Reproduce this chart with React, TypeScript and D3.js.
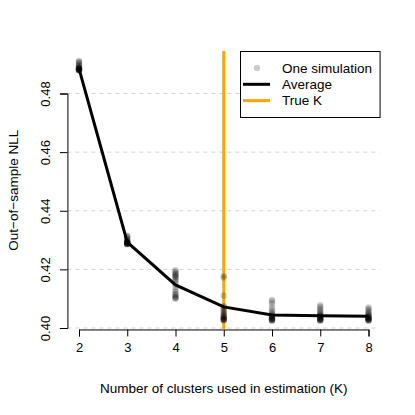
import * as d3 from 'd3'
import { useEffect, useRef } from 'react'

// number of clusters used in estimation
const clusters = [2, 3, 4, 5, 6, 7, 8]

// out-of-sample NLL per simulation
const simK2 = [0.4911, 0.4908, 0.4904, 0.4900, 0.4896, 0.4893, 0.4890, 0.4888, 0.4887, 0.4886,
    0.4885, 0.4884, 0.4883, 0.4882, 0.4882, 0.4881, 0.4880, 0.4880, 0.4879, 0.4879]
const simK3 = [0.4315, 0.4312, 0.4308, 0.4304, 0.4300, 0.4298, 0.4296, 0.4294, 0.4293, 0.4292,
    0.4291, 0.4290, 0.4290, 0.4289, 0.4288, 0.4288, 0.4287, 0.4287, 0.4286, 0.4286]
const simK4 = [0.4197, 0.4192, 0.4188, 0.4184, 0.4180, 0.4177, 0.4174, 0.4170, 0.4165, 0.4158,
    0.4150, 0.4140, 0.4130, 0.4122, 0.4116, 0.4112, 0.4108, 0.4105, 0.4102, 0.4100]
const simK5 = [0.4177, 0.4172, 0.4110, 0.4075, 0.4070, 0.4065, 0.4060, 0.4055, 0.4050, 0.4046,
    0.4043, 0.4040, 0.4037, 0.4035, 0.4033, 0.4031, 0.4030, 0.4028, 0.4027, 0.4026]
const simK6 = [0.4096, 0.4090, 0.4082, 0.4070, 0.4062, 0.4055, 0.4050, 0.4046, 0.4043, 0.4040,
    0.4038, 0.4036, 0.4034, 0.4032, 0.4031, 0.4030, 0.4028, 0.4027, 0.4026, 0.4025]
const simK7 = [0.4078, 0.4072, 0.4066, 0.4060, 0.4055, 0.4050, 0.4047, 0.4044, 0.4041, 0.4039,
    0.4037, 0.4035, 0.4033, 0.4032, 0.4030, 0.4029, 0.4028, 0.4027, 0.4026, 0.4025]
const simK8 = [0.4070, 0.4065, 0.4060, 0.4055, 0.4050, 0.4047, 0.4044, 0.4041, 0.4039, 0.4037,
    0.4035, 0.4034, 0.4033, 0.4032, 0.4030, 0.4029, 0.4028, 0.4027, 0.4026, 0.4025]

// average line
const average = [0.4885, 0.4293, 0.4147, 0.4072, 0.4044, 0.4042, 0.4040]

const trueK = 5
const yTicks = [0.40, 0.42, 0.44, 0.46, 0.48]
const legendLabels = ['One simulation', 'Average', 'True K']

const FONT = '"Liberation Sans", Arial, Helvetica, sans-serif'

export default function App() {
    const svgRef = useRef<SVGSVGElement>(null)

    useEffect(() => {
        makeChart()
    }, [])

    function makeChart() {
        const width = 415
        const height = 415

        const svg = d3.select(svgRef.current).attr('width', width).attr('height', height)
        svg.selectAll('*').remove()

        const xScale = d3.scaleLinear().domain([2, 8]).range([79, 368.5])
        const yScale = d3.scaleLinear().domain([0.40, 0.48]).range([328, 93.5])

        // plot region (R adds 4% on each side)
        const left = xScale(1.76), right = xScale(8.24)
        const top = yScale(0.4945), bottom = yScale(0.3995)

        // dashed grid
        svg.append('g').selectAll('line')
            .data(yTicks)
            .enter()
            .append('line')
            .attr('x1', left).attr('x2', right)
            .attr('y1', d => yScale(d)).attr('y2', d => yScale(d))
            .attr('stroke', '#d3d3d3')
            .attr('stroke-dasharray', '4,4')

        // x axis
        const bottomAxis = d3.axisBottom(xScale).tickValues(clusters).tickFormat(d3.format('d'))
            .tickSizeOuter(0).tickSize(7).tickPadding(6)
        const gx = svg.append('g').attr('transform', `translate(0, ${bottom})`).call(bottomAxis)
        gx.selectAll('text').attr('font-size', 13).attr('font-family', FONT).attr('fill', '#000')

        // y axis
        const leftAxis = d3.axisLeft(yScale).tickValues(yTicks).tickFormat(d3.format('.2f')).tickSizeOuter(0).tickSize(7.5)
        const gy = svg.append('g').attr('transform', `translate(${left}, 0)`).call(leftAxis)
        gy.selectAll('.tick text')
            .attr('font-size', 13).attr('font-family', FONT).attr('fill', '#000')
            .attr('text-anchor', 'middle').attr('dy', null).attr('x', null)
            .attr('transform', 'translate(-17,0) rotate(-90)')
            .attr('y', 0)

        // true K
        svg.append('line')
            .attr('x1', xScale(trueK)).attr('x2', xScale(trueK))
            .attr('y1', top).attr('y2', bottom)
            .attr('stroke', '#FFA500').attr('stroke-width', 3)

        // simulations
        const sims = [simK2, simK3, simK4, simK5, simK6, simK7, simK8]
        const points = sims.flatMap((vals, i) => vals.map(v => ({ k: clusters[i], v })))
        svg.append('g').selectAll('circle')
            .data(points)
            .enter()
            .append('circle')
            .attr('cx', d => xScale(d.k))
            .attr('cy', d => yScale(d.v))
            .attr('r', 3.2)
            .attr('fill', 'rgba(0,0,0,0.2)')

        // average
        const line = d3.line<number>().x((_, i) => xScale(clusters[i])).y(d => yScale(d))
        svg.append('path')
            .attr('d', line(average))
            .attr('fill', 'none')
            .attr('stroke', '#000')
            .attr('stroke-width', 3)

        // legend
        const lg = svg.append('g')
        lg.append('rect')
            .attr('x', 240.5).attr('y', top + 0.5)
            .attr('width', right - 240.5).attr('height', 117 - top)
            .attr('fill', '#fff').attr('stroke', '#000')
        const rowY = (i: number) => 68 + i * 16.3
        lg.append('circle').attr('cx', 257).attr('cy', rowY(0)).attr('r', 3.2).attr('fill', 'rgba(0,0,0,0.2)')
        lg.append('line').attr('x1', 243).attr('x2', 270).attr('y1', rowY(1)).attr('y2', rowY(1))
            .attr('stroke', '#000').attr('stroke-width', 3)
        lg.append('line').attr('x1', 243).attr('x2', 270).attr('y1', rowY(2)).attr('y2', rowY(2))
            .attr('stroke', '#FFA500').attr('stroke-width', 3)
        lg.selectAll('text')
            .data(legendLabels)
            .enter()
            .append('text')
            .attr('x', 282)
            .attr('y', (_, i) => rowY(i) + 4.7)
            .attr('font-size', 13.5)
            .attr('font-family', FONT)
            .text(d => d)

        // axis titles
        svg.append('text')
            .attr('x', (left + right) / 2).attr('y', 393)
            .attr('text-anchor', 'middle')
            .attr('font-size', 13.5).attr('font-family', FONT)
            .text('Number of clusters used in estimation (K)')
        svg.append('text')
            .attr('transform', `translate(18, ${(top + bottom) / 2}) rotate(-90)`)
            .attr('text-anchor', 'middle')
            .attr('font-size', 13.5).attr('font-family', FONT)
            .text('Out−of−sample NLL')
    }

    return (
        <svg ref={svgRef} style={{ position: 'absolute', left: 0, top: 0, background: '#fff' }}></svg>
    )
}
